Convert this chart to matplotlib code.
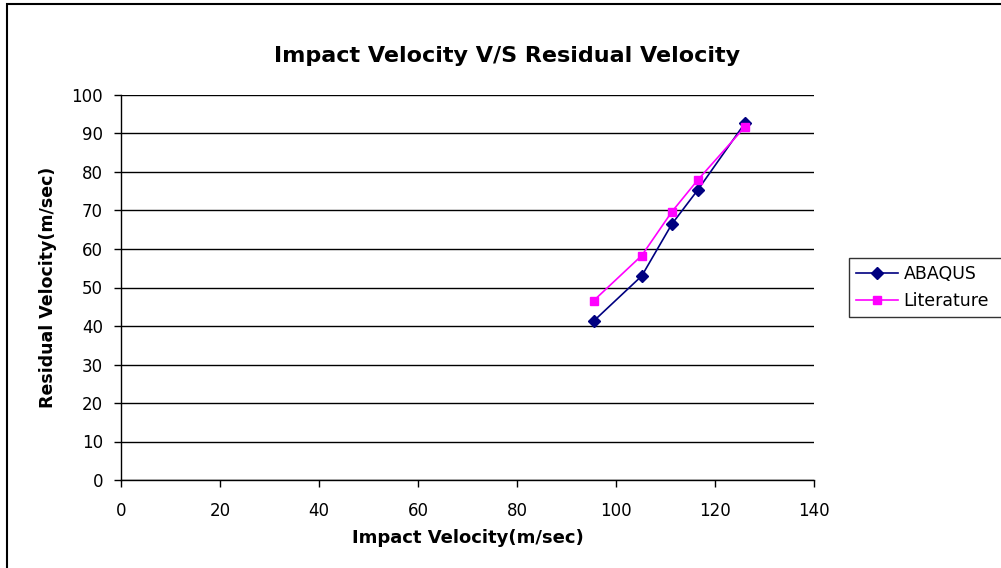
"""Impact velocity vs residual velocity: ABAQUS vs literature."""
import matplotlib
matplotlib.use("Agg")
import matplotlib.pyplot as plt
from matplotlib.patches import Rectangle

plt.rcParams.update({
    "font.family": "DejaVu Sans",
    "axes.linewidth": 1.0,
    "axes.edgecolor": "black",
})

# values
impact_velocity = [95.5, 105.2, 111.3, 116.5, 126.1]
residual_abaqus = [41.3, 53.0, 66.5, 75.3, 92.8]
residual_literature = [46.6, 58.3, 69.7, 77.9, 91.8]

x_ticks = [0, 20, 40, 60, 80, 100, 120, 140]
y_ticks = [0, 10, 20, 30, 40, 50, 60, 70, 80, 90, 100]

fig = plt.figure(figsize=(10.01, 5.68), dpi=100)
ax = fig.add_axes([121 / 1001, 88 / 568, 693 / 1001, 385 / 568])

ax.plot(impact_velocity, residual_abaqus, color="#000080", linewidth=1.2,
        marker="D", markersize=6.5, label="ABAQUS", zorder=3)
ax.plot(impact_velocity, residual_literature, color="#FF00FF", linewidth=1.2,
        marker="s", markersize=6, label="Literature", zorder=3)

ax.set_xlim(0, 140)
ax.set_ylim(0, 100)
ax.set_xticks(x_ticks)
ax.set_yticks(y_ticks)
ax.tick_params(axis="both", direction="out", length=5, width=1, labelsize=12)
ax.tick_params(axis="x", pad=11)
ax.tick_params(axis="y", pad=8)
ax.grid(axis="y", color="black", linewidth=1.0)
ax.set_axisbelow(True)
ax.spines[["top", "right"]].set_visible(False)

ax.set_xlabel("Impact Velocity(m/sec)", fontsize=13, fontweight="bold", labelpad=6)
ax.set_ylabel("Residual Velocity(m/sec)", fontsize=12.5, fontweight="bold", labelpad=10)
fig.text(507 / 1001, 1 - 56 / 568, "Impact Velocity V/S Residual Velocity",
         ha="center", va="center", fontsize=16, fontweight="bold")

# legend box runs past the right edge of the image, as in the original
leg_top = 1 - 258 / 568
leg_h = 59 / 568
leg = fig.legend(loc="upper left", mode="expand",
                 bbox_to_anchor=(849 / 1001, leg_top - leg_h, 0.2, leg_h),
                 bbox_transform=fig.transFigure, fontsize=12.5, frameon=True,
                 fancybox=False, edgecolor="black", borderaxespad=0,
                 handlelength=2.4, handletextpad=0.35, labelspacing=0.5,
                 borderpad=0.4)
leg.get_frame().set_linewidth(1.0)

# outer chart border (right and bottom edges fall outside the image)
fig.patches.append(Rectangle((7 / 1001, -0.1), 1.2, 1.1 - 4 / 568,
                             transform=fig.transFigure, fill=False,
                             edgecolor="black", linewidth=1.5))

fig.savefig("out.png", dpi=100)
